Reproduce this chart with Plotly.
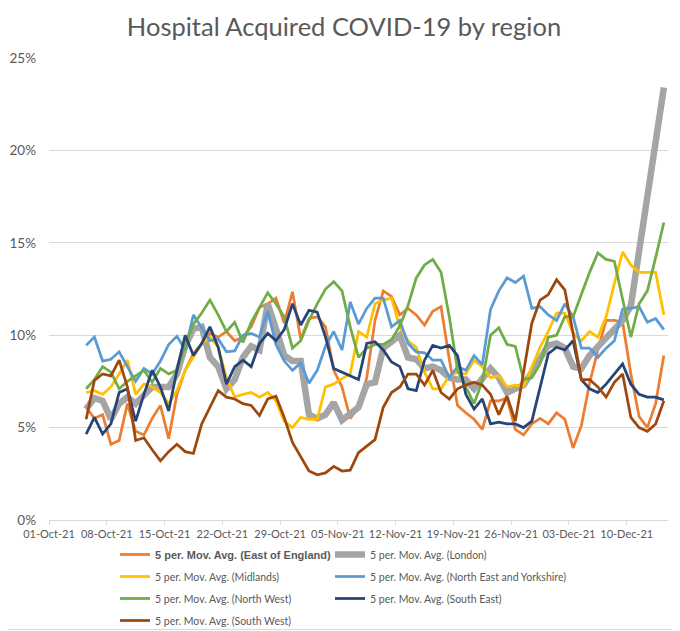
import numpy as np
import pandas as pd
import plotly.graph_objects as go

# Dates of the 5-period moving averages (05-Oct-21 .. 14-Dec-21)
dates = pd.date_range("2021-10-05", "2021-12-14", freq="D")

east_of_england = [6.1, 5.5, 5.7, 4.1, 4.3, 6.3, 4.8, 4.6, 5.5, 6.2, 4.4, 6.8, 8.1, 9.0, 9.55, 10.1, 9.9, 10.2,
                   9.7, 9.9, 10.45, 11.5, 11.7, 12.0, 10.65, 12.35, 9.8, 10.9, 11.0, 10.45, 8.1, 7.2, 5.5, 6.1, 7.7, 10.8,
                   12.4, 12.1, 11.1, 11.45, 11.1, 10.55, 11.3, 11.55, 8.7, 6.2, 5.8, 5.45, 4.9, 6.45, 6.45, 6.6, 4.9, 4.6,
                   5.2, 5.5, 5.2, 5.8, 5.45, 3.9, 5.1, 7.4, 9.2, 10.8, 10.8, 10.7, 7.9, 5.6, 5.0, 6.3, 8.9]
london = [6.0, 6.6, 6.45, 5.45, 6.3, 6.65, 6.3, 6.8, 7.2, 7.2, 7.2, 7.9, 9.4, 10.35, 10.45, 8.8, 8.3, 7.1,
          7.6, 8.8, 9.4, 9.2, 11.7, 10.35, 8.9, 8.6, 8.6, 5.7, 5.5, 5.7, 6.35, 5.4, 5.8, 6.1, 7.35, 7.45,
          9.3, 9.7, 10.0, 8.8, 8.7, 8.2, 8.3, 8.1, 7.7, 7.6, 7.6, 7.1, 7.6, 8.2, 7.7, 6.9, 7.1, 7.3,
          8.0, 8.8, 9.45, 9.55, 9.3, 8.3, 8.2, 8.9, 9.4, 9.8, 10.4, 10.8, 11.6, 14.55, 17.5, 20.45, 23.4]
midlands = [6.9, 7.0, 6.8, 7.2, 7.9, 8.65, 6.8, 7.35, 7.2, 6.9, 6.3, 7.0, 8.1, 8.8, 9.55, 9.9, 9.35, 7.7,
            6.65, 6.8, 6.9, 6.65, 6.9, 6.45, 5.35, 5.0, 5.55, 5.45, 5.45, 7.2, 7.35, 7.65, 7.9, 10.2, 9.9, 11.7,
            11.9, 12.0, 10.45, 9.7, 9.35, 8.0, 7.1, 7.1, 7.8, 8.0, 7.9, 8.65, 8.3, 7.7, 7.8, 7.2, 7.3, 7.2,
            8.3, 9.35, 10.2, 11.2, 11.2, 10.1, 9.7, 10.2, 9.9, 11.0, 12.8, 14.5, 13.8, 13.4, 13.4, 13.4, 11.1]
north_east_yorkshire = [9.45, 9.9, 8.6, 8.7, 9.1, 8.3, 7.5, 8.2, 7.9, 8.6, 9.5, 9.95, 9.2, 11.1, 10.4, 9.7, 9.8, 9.1,
                        9.15, 10.0, 10.1, 9.9, 11.3, 9.5, 8.6, 8.1, 8.5, 7.4, 8.1, 9.4, 10.2, 9.2, 11.8, 10.6, 11.45, 12.0,
                        12.0, 10.45, 10.8, 9.55, 9.1, 9.05, 8.65, 8.65, 7.7, 8.3, 8.1, 8.9, 8.4, 11.4, 12.4, 13.1, 12.85, 13.2,
                        11.45, 11.55, 11.1, 10.8, 11.7, 11.0, 9.3, 9.3, 8.8, 9.3, 9.7, 11.4, 11.45, 11.55, 10.7, 10.9, 10.3]
north_west = [7.1, 7.6, 8.3, 8.0, 7.1, 7.5, 7.8, 8.1, 7.45, 8.2, 7.9, 8.1, 9.45, 10.6, 11.2, 11.9, 11.1, 10.2,
              10.7, 9.6, 10.7, 11.5, 12.3, 11.7, 11.0, 9.3, 9.7, 10.8, 11.7, 12.5, 12.9, 12.4, 10.45, 8.8, 9.3, 9.5,
              9.5, 9.75, 10.5, 11.6, 13.1, 13.8, 14.1, 13.4, 11.0, 8.1, 7.2, 6.3, 7.5, 10.0, 10.4, 9.5, 9.4, 7.6,
              7.7, 8.45, 9.9, 10.0, 11.0, 11.0, 12.2, 13.4, 14.45, 14.1, 14.0, 12.0, 9.9, 11.7, 12.4, 14.2, 16.1]
south_east = [4.65, 5.55, 4.65, 5.2, 6.9, 7.1, 5.35, 6.8, 8.1, 7.2, 5.9, 8.1, 10.0, 8.9, 9.55, 10.45, 9.35, 7.35,
              8.3, 8.65, 8.3, 9.55, 10.1, 9.7, 10.3, 11.7, 10.55, 11.35, 11.25, 9.9, 8.2, 8.0, 7.8, 7.6, 9.55, 9.65,
              9.2, 8.55, 8.3, 7.1, 7.0, 8.65, 9.45, 9.3, 9.45, 8.9, 6.8, 6.0, 6.55, 5.2, 5.3, 5.2, 5.2, 5.0,
              5.35, 7.2, 9.0, 9.35, 9.2, 9.7, 7.6, 7.1, 6.9, 7.35, 7.9, 8.45, 7.35, 6.8, 6.65, 6.65, 6.5]
south_west = [5.45, 7.55, 7.9, 7.8, 8.65, 7.2, 4.3, 4.45, 3.8, 3.2, 3.7, 4.1, 3.7, 3.6, 5.2, 6.1, 7.0, 6.65,
              6.55, 6.3, 6.2, 5.65, 6.55, 6.7, 5.55, 4.2, 3.45, 2.65, 2.45, 2.55, 2.9, 2.65, 2.7, 3.65, 4.0, 4.35,
              6.1, 6.9, 7.2, 7.9, 7.9, 7.3, 8.1, 6.9, 6.55, 7.1, 7.3, 7.45, 7.3, 6.8, 5.7, 6.7, 5.35, 7.9,
              10.65, 11.9, 12.2, 13.0, 12.45, 10.1, 7.6, 7.6, 7.2, 6.65, 7.45, 7.9, 5.55, 5.0, 4.8, 5.2, 6.45]

series_names = [
    "<b><span style='font-size:11px;font-family:Liberation Sans,Arial'>5 per. Mov. Avg. (East of England)</span></b>",
    "5 per. Mov. Avg. (London)",
    "5 per. Mov. Avg. (Midlands)",
    "5 per. Mov. Avg. (North East and Yorkshire)",
    "5 per. Mov. Avg. (North West)",
    "5 per. Mov. Avg. (South East)",
    "5 per. Mov. Avg. (South West)",
]
series_values = [east_of_england, london, midlands, north_east_yorkshire, north_west, south_east, south_west]
colors = ["#ED7D31", "#A5A5A5", "#FFC000", "#5B9BD5", "#70AD47", "#264478", "#9E480E"]
widths = [2.75, 6.5, 2.75, 2.75, 2.75, 2.75, 2.75]
legend_column = ["legend", "legend2", "legend", "legend2", "legend", "legend2", "legend"]

tick_dates = pd.date_range("2021-10-01", "2021-12-10", freq="7D")
tick_text = [d.strftime("%d-%b-%y") for d in tick_dates]

# Excel date axis: each day occupies a slot, points drawn at slot centre
xpos = dates + pd.Timedelta(hours=12)

fig = go.Figure()
for k, (name, vals, col, w, lg) in enumerate(zip(series_names, series_values, colors, widths, legend_column)):
    fig.add_trace(go.Scatter(
        x=xpos, y=np.array(vals) / 100.0, mode="lines", name=name,
        line=dict(color=col, width=w), legend=lg, legendgroup=f"g{k}",
    ))

# The page body adds an 8px offset; the figure is sized so that it ends at the window edge
OFF = 8
W, H = 680 - OFF, 631 - OFF
ml, mr, mt, mb = 49 - OFF, 12, 58 - OFF, 111
pw, ph = W - ml - mr, H - mt - mb

def px_x(page_x):
    return (page_x - 49) / pw

def px_y(page_y):
    return (520 - page_y) / ph

legend_common = dict(orientation="v", yanchor="top", xanchor="left",
                     itemwidth=30, bgcolor="rgba(0,0,0,0)", tracegroupgap=3,
                     font=dict(size=10.5, color="#595959", family="Lato"))

fig.update_layout(
    width=W, height=H,
    margin=dict(l=ml, r=mr, t=mt, b=mb, autoexpand=False),
    paper_bgcolor="white", plot_bgcolor="white",
    font=dict(family="Lato", color="#595959"),
    title=dict(text="Hospital Acquired COVID-19 by region", x=0.5, xanchor="center",
               y=1 - (27 - OFF) / H, yanchor="middle", yref="container",
               font=dict(family="Lato", size=25.5, color="#595959")),
    xaxis=dict(type="date", range=["2021-10-01", "2021-12-15"],
               tickvals=tick_dates, ticktext=tick_text, tickangle=0,
               ticks="outside", ticklen=4, tickcolor="#D9D9D9",
               showline=True, linecolor="#D9D9D9", linewidth=1,
               showgrid=False, zeroline=False, automargin=False,
               tickfont=dict(size=11, color="#595959")),
    yaxis=dict(range=[0, 0.25], dtick=0.05, tickformat=".0%",
               showgrid=True, gridcolor="#D9D9D9", gridwidth=1,
               zeroline=False, showline=False, ticks="", automargin=False,
               ticklabelstandoff=12,
               tickfont=dict(size=13.5, color="#595959")),
    legend=dict(x=px_x(115), y=px_y(540), **legend_common),
    legend2=dict(x=px_x(330), y=px_y(540), **legend_common),
    showlegend=True,
)

fig.add_shape(type="line", xref="paper", yref="paper",
              x0=1 + (mr - 1.5) / pw, x1=1 + (mr - 1.5) / pw,
              y0=-(mb - 1.5) / ph, y1=1 + mt / ph,
              line=dict(color="#D9D9D9", width=1))
fig.add_shape(type="line", xref="paper", yref="paper",
              x0=-ml / pw, x1=1 + (mr - 1.5) / pw,
              y0=-(mb - 1.5) / ph, y1=-(mb - 1.5) / ph,
              line=dict(color="#D9D9D9", width=1))

fig.write_html("out.html")
